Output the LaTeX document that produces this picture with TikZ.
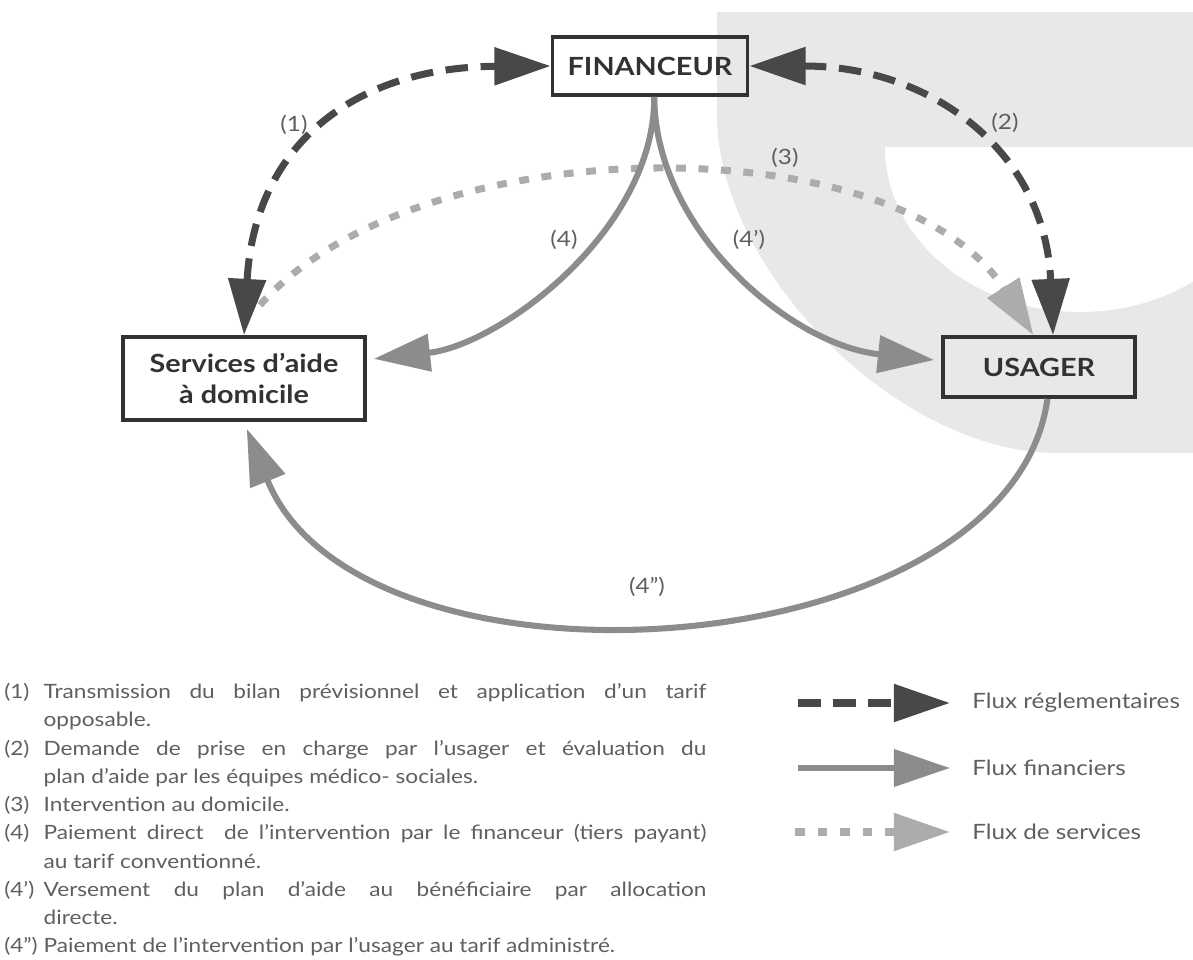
\documentclass[tikz,border=0pt]{standalone}
\usepackage{fontspec}
\setmainfont{Lato}[FakeStretch=1.15]
\usetikzlibrary{arrows.meta}
\definecolor{regcol}{RGB}{72,72,72}
\definecolor{fincol}{RGB}{140,140,140}
\definecolor{servcol}{RGB}{172,172,172}
\definecolor{bgcol}{RGB}{232,232,232}
\definecolor{boxcol}{RGB}{50,50,50}
\definecolor{txtcol}{RGB}{95,95,95}

\begin{document}
\begin{tikzpicture}[x=0.025cm,y=-0.025cm,
  >={Triangle[length=40pt,width=26pt]},
  acteur/.style={draw=boxcol,line width=2.6pt,text=boxcol,align=center,
    font=\bfseries\fontsize{17.8pt}{22pt}\selectfont},
  flreg/.style={draw=regcol,line width=5pt,dash pattern=on 16pt off 9pt},
  flfin/.style={draw=fincol,line width=4.3pt},
  flserv/.style={draw=servcol,line width=5pt,dash pattern=on 7pt off 9pt},
  num/.style={text=txtcol,font=\fontsize{15pt}{18pt}\selectfont},
  legtxt/.style={text=txtcol,inner sep=0,anchor=west,font=\fontsize{15pt}{18pt}\selectfont}]
\useasboundingbox (0,0) rectangle (1193,960);

% fond gris
\fill[bgcol] (717,12) -- (1193,12) -- (1193,453) -- (1057,453)
  .. controls (898,453) and (717,270) .. (717,115) -- cycle;
\fill[white] (885,147) -- (1275,147)
  .. controls (1275,238) and (1188,312) .. (1080,312)
  .. controls (972,312) and (885,238) .. (885,147) -- cycle;

\node[acteur,minimum width=4.875cm,minimum height=1.45cm] (financeur) at (650,66) {FINANCEUR};
\node[acteur,minimum width=6.05cm,minimum height=2.075cm] (services) at (244,378.5) {Services d’aide\\à domicile};
\node[acteur,minimum width=4.8cm,minimum height=1.5cm] (usager) at (1039,367) {USAGER};

\coordinate (d3) at (260,305);
\draw[flreg,<->] (services.north) .. controls (255,140) and (360,67) .. (financeur.west);
\draw[flreg,<->] (financeur.east) .. controls (930,66) and (1045,150) .. ([xshift=10pt]usager.north);
\draw[flserv,->] (d3) .. controls (420,125) and (900,125) .. ([xshift=-4pt]usager.north);
\draw[flfin,->] ([xshift=3pt]financeur.south) .. controls (655,230) and (500,345) .. ([shift={(5pt,14pt)}]services.east);
\draw[flfin,->] ([xshift=3pt]financeur.south) .. controls (655,230) and (790,345) .. ([shift={(-5pt,5pt)}]usager.west);
\draw[flfin,->] ([xshift=6pt]usager.south) .. controls (1010,670) and (360,710) .. ([shift={(2pt,-5pt)}]services.south);

\node[num] (n1) at (294,125) {(1)};
\node[num] (n2) at (1005,123) {(2)};
\node[num] (n3) at (785,158) {(3)};
\node[num] (n4) at (564,240) {(4)};
\node[num] (n4a) at (749,240) {(4’)};
\node[num] (n4b) at (647,587) {(4”)};

% legende
\coordinate (lg1a) at (798,703);
\coordinate (lg1b) at (950,703);
\coordinate (lg2a) at (798,768);
\coordinate (lg2b) at (950,768);
\coordinate (lg3a) at (795,832);
\coordinate (lg3b) at (950,832);
\node[legtxt] (lg1) at (972,703) {Flux réglementaires};
\node[legtxt] (lg2) at (972,768) {Flux financiers};
\node[legtxt] (lg3) at (972,832) {Flux de services};
\draw[flreg,->] (lg1a) -- (lg1b);
\draw[flfin,->] (lg2a) -- (lg2b);
\draw[flserv,->] (lg3a) -- (lg3b);

\node[anchor=north west,inner sep=0,text width=17.55cm,align=justify,text=txtcol,
  font=\fontsize{14pt}{20.1pt}\selectfont] (liste) at (4,683) {\parindent=0pt
\hangindent=28pt\hangafter=1\makebox[28pt][l]{(1)}Transmission du bilan prévisionnel et application d’un tarif\linebreak opposable.\par
\hangindent=28pt\hangafter=1\makebox[28pt][l]{(2)}Demande de prise en charge par l’usager et évaluation du\linebreak plan d’aide par les équipes médico- sociales.\par
\hangindent=28pt\hangafter=1\makebox[28pt][l]{(3)}Intervention au domicile.\par
\hangindent=28pt\hangafter=1\makebox[28pt][l]{(4)}Paiement direct \ de l’intervention par le financeur (tiers payant)\linebreak au tarif conventionné.\par
\hangindent=28pt\hangafter=1\makebox[28pt][l]{(4’)}Versement du plan d’aide au bénéficiaire par allocation\linebreak directe.\par
\hangindent=28pt\hangafter=1\makebox[28pt][l]{(4”)}Paiement de l’intervention par l’usager au tarif administré.\par};
\end{tikzpicture}
\end{document}
